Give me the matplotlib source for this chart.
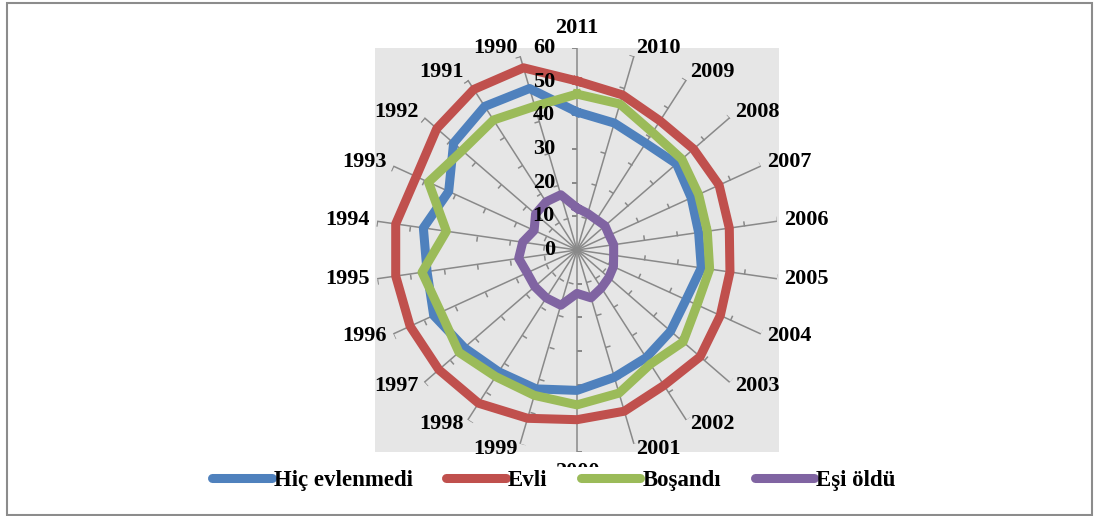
import numpy as np
import matplotlib
matplotlib.use('Agg')
import matplotlib.pyplot as plt
from matplotlib.markers import MarkerStyle
from matplotlib.path import Path
from matplotlib.transforms import Affine2D
from matplotlib.patches import Rectangle
from matplotlib.lines import Line2D

# kategoriler (saat yönünde, üstten başlayarak)
years = ['2011', '2010', '2009', '2008', '2007', '2006', '2005', '2004', '2003', '2002', '2001',
         '2000', '1999', '1998', '1997', '1996', '1995', '1994', '1993', '1992', '1991', '1990']

hic_evlenmedi = [41.0, 39.3, 37.7, 39.1, 37.3, 36.5, 37.3, 35.6, 36.8, 38.0, 39.4,
                 41.7, 43.0, 43.0, 44.3, 46.8, 45.0, 46.1, 41.9, 48.5, 50.7, 50.0]
evli = [50.2, 48.0, 45.6, 45.8, 46.4, 45.7, 45.9, 46.8, 48.4, 47.8, 49.9,
        50.4, 52.1, 54.1, 54.3, 54.5, 54.4, 54.4, 52.5, 55.1, 56.7, 56.4]
bosandi = [46.3, 45.2, 41.5, 41.2, 39.7, 39.1, 39.8, 39.2, 41.7, 40.3, 44.3,
           46.0, 45.0, 44.7, 46.4, 44.5, 46.5, 39.2, 48.5, 45.1, 45.9, 44.5]
esi_oldu = [12.5, 11.3, 10.7, 11.0, 10.5, 11.0, 11.0, 11.9, 12.5, 13.4, 14.8,
            12.9, 17.1, 16.9, 16.6, 16.3, 17.5, 16.3, 14.0, 16.3, 17.0, 17.1]

series_names = ['Hiç evlenmedi', 'Evli', 'Boşandı', 'Eşi öldü']
series_vals = [hic_evlenmedi, evli, bosandi, esi_oldu]
colors = ['#4F81BD', '#C0504D', '#9BBB59', '#8064A2']
r_ticks = [0, 10, 20, 30, 40, 50, 60]

font = dict(family='Liberation Serif', fontweight='bold')
spoke_col = '#898989'
PX = 0.72  # px -> pt

W, H = 1095, 516
fig = plt.figure(figsize=(W / 100, H / 100), dpi=100)

# dış çerçeve
fig.add_artist(Rectangle((7 / W, 1 / H), 1085 / W, 512 / H, transform=fig.transFigure,
                         fill=False, edgecolor='#8c8c8c', lw=1.5, zorder=-2))

# gri çizim alanı
pos = [375 / W, (H - 452) / H, 404 / W, 404 / H]
fig.add_artist(Rectangle((pos[0], pos[1]), pos[2], pos[3], transform=fig.transFigure,
                         facecolor='#e6e6e6', edgecolor='none', zorder=-1))

ax = fig.add_axes(pos, projection='polar')
ax.set_facecolor('none')
ax.set_theta_zero_location('N')
ax.set_theta_direction(-1)
ax.set_ylim(0, 60)
ax.grid(False)
ax.spines['polar'].set_visible(False)
ax.set_xticks([])
ax.set_yticks([])

n = len(years)
angles = np.arange(n) * 2 * np.pi / n

# kollar ve küçük çentikler
tick_path = Path([(0, 0), (0, 1)])
for th in angles:
    ax.plot([th, th], [0, 60], color=spoke_col, lw=1.1, zorder=1)
    m = MarkerStyle(tick_path, transform=Affine2D().rotate_deg(90 - np.degrees(th)))
    ax.plot([th] * 6, r_ticks[1:], ls='none', marker=m, ms=7.5,
            markeredgecolor=spoke_col, mew=1.1, zorder=1)

# seriler
for vals, col, name in zip(series_vals, colors, series_names):
    a = np.append(angles, angles[0])
    v = np.append(vals, vals[0])
    ax.plot(a, v, color=col, lw=6.5, label=name, zorder=3)

# kategori etiketleri
for th, lab in zip(angles, years):
    s, c = np.sin(th), np.cos(th)
    if abs(s) < 0.2:
        ha, dx, dy = 'center', 0, 20 * np.sign(c)
    else:
        ha = 'left' if s > 0 else 'right'
        dx = 6 * s + np.sign(s)
        dy = 9 * c if c > 0 else 5 * c
    ax.annotate(lab, xy=(th, 60), xytext=(dx * PX, dy * PX), textcoords='offset points',
                ha=ha, va='center', fontsize=16, annotation_clip=False, zorder=4, **font)

# eksen değerleri
for r in r_ticks:
    ax.annotate(str(r), xy=(0, r), xytext=(-22 * PX, 0), textcoords='offset points',
                ha='right', va='center', fontsize=16, annotation_clip=False, zorder=4, **font)

handles = [Line2D([], [], color=c, lw=6.5, solid_capstyle='round') for c in colors]
leg = fig.legend(handles, series_names, loc='center', bbox_to_anchor=(554 / W, 1 - 480 / H),
                 ncol=4, frameon=True, handlelength=2.6, handletextpad=0.1, columnspacing=1.45,
                 borderpad=0.1, prop=dict(family='Liberation Serif', weight='bold', size=16.5))
leg.get_frame().set_facecolor('white')
leg.get_frame().set_edgecolor('none')
leg.get_frame().set_alpha(1)

fig.savefig('out.png', dpi=100)
